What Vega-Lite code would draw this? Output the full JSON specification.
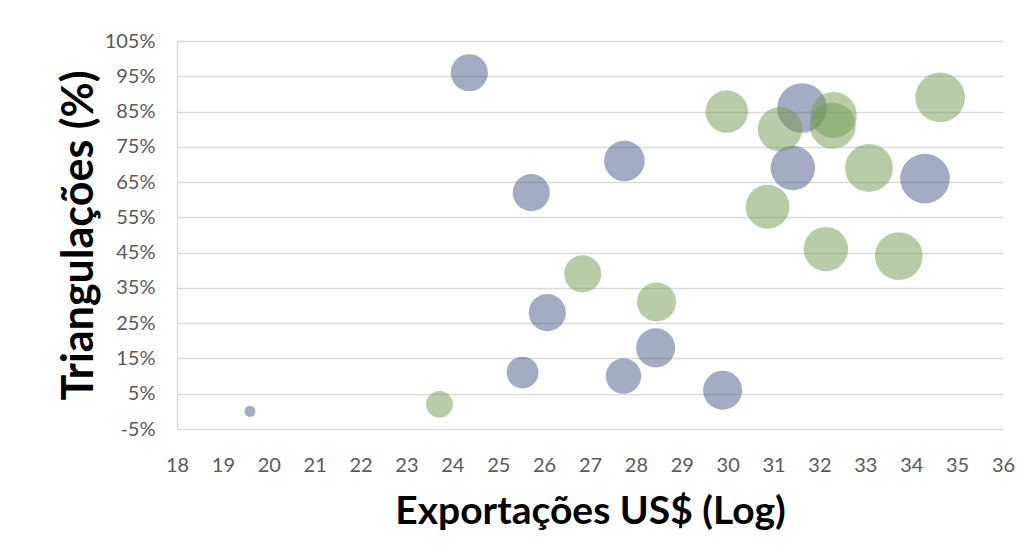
{
  "$schema": "https://vega.github.io/schema/vega-lite/v6.json",
  "width": 826,
  "height": 388,
  "autosize": {"type": "none"},
  "padding": {"left": 177, "top": 41, "right": 25, "bottom": 129},
  "background": "white",
  "config": {"view": {"stroke": null}},
  "data": {
    "values": [
      {"grupo": "Série 1", "exportacoes": 19.59, "triangulacoes": 0, "tamanho": 5},
      {"grupo": "Série 1", "exportacoes": 24.37, "triangulacoes": 96, "tamanho": 56},
      {"grupo": "Série 1", "exportacoes": 25.72, "triangulacoes": 62, "tamanho": 56},
      {"grupo": "Série 1", "exportacoes": 26.07, "triangulacoes": 28, "tamanho": 56},
      {"grupo": "Série 1", "exportacoes": 25.53, "triangulacoes": 11, "tamanho": 41},
      {"grupo": "Série 1", "exportacoes": 27.75, "triangulacoes": 71, "tamanho": 67},
      {"grupo": "Série 1", "exportacoes": 27.73, "triangulacoes": 10, "tamanho": 51},
      {"grupo": "Série 1", "exportacoes": 28.43, "triangulacoes": 18, "tamanho": 62},
      {"grupo": "Série 1", "exportacoes": 29.89, "triangulacoes": 6, "tamanho": 62},
      {"grupo": "Série 1", "exportacoes": 31.62, "triangulacoes": 86, "tamanho": 100},
      {"grupo": "Série 1", "exportacoes": 31.42, "triangulacoes": 69, "tamanho": 80},
      {"grupo": "Série 1", "exportacoes": 34.3, "triangulacoes": 66, "tamanho": 100},
      {"grupo": "Série 2", "exportacoes": 23.72, "triangulacoes": 2, "tamanho": 29},
      {"grupo": "Série 2", "exportacoes": 26.84, "triangulacoes": 39, "tamanho": 56},
      {"grupo": "Série 2", "exportacoes": 28.45, "triangulacoes": 31, "tamanho": 62},
      {"grupo": "Série 2", "exportacoes": 29.98, "triangulacoes": 85, "tamanho": 73},
      {"grupo": "Série 2", "exportacoes": 31.14, "triangulacoes": 80, "tamanho": 80},
      {"grupo": "Série 2", "exportacoes": 30.87, "triangulacoes": 58, "tamanho": 78},
      {"grupo": "Série 2", "exportacoes": 32.31, "triangulacoes": 84, "tamanho": 86},
      {"grupo": "Série 2", "exportacoes": 32.29, "triangulacoes": 81, "tamanho": 86},
      {"grupo": "Série 2", "exportacoes": 33.08, "triangulacoes": 69, "tamanho": 93},
      {"grupo": "Série 2", "exportacoes": 32.14, "triangulacoes": 46, "tamanho": 80},
      {"grupo": "Série 2", "exportacoes": 33.73, "triangulacoes": 44, "tamanho": 93},
      {"grupo": "Série 2", "exportacoes": 34.63, "triangulacoes": 89, "tamanho": 100}
    ]
  },
  "mark": {"type": "circle", "opacity": 0.5, "strokeWidth": 0},
  "encoding": {
    "x": {
      "field": "exportacoes",
      "type": "quantitative",
      "scale": {"domain": [18, 36], "nice": false, "zero": false},
      "axis": {
        "title": "Exportações US$ (Log)",
        "values": [18, 19, 20, 21, 22, 23, 24, 25, 26, 27, 28, 29, 30, 31, 32, 33, 34, 35, 36],
        "grid": false,
        "domain": false,
        "ticks": false,
        "labelFont": "Lato",
        "labelFontSize": 20,
        "labelColor": "#595959",
        "labelPadding": 26,
        "labelFlush": false,
        "titleFont": "Lato",
        "titleFontSize": 39,
        "titleFontWeight": "bold",
        "titleColor": "#000000",
        "titlePadding": 17
      }
    },
    "y": {
      "field": "triangulacoes",
      "type": "quantitative",
      "scale": {"domain": [-5, 105], "nice": false, "zero": false},
      "axis": {
        "title": "Triangulações (%)",
        "values": [-5, 5, 15, 25, 35, 45, 55, 65, 75, 85, 95, 105],
        "labelExpr": "datum.value + '%'",
        "grid": true,
        "gridColor": "#d9d9d9",
        "gridWidth": 1.5,
        "domain": true,
        "domainColor": "#d9d9d9",
        "domainWidth": 1.5,
        "ticks": false,
        "labelFont": "Lato",
        "labelFontSize": 20,
        "labelColor": "#595959",
        "labelPadding": 22,
        "labelFlush": false,
        "titleFont": "Lato",
        "titleFontSize": 43,
        "titleFontWeight": "bold",
        "titleColor": "#000000",
        "titlePadding": 3
      }
    },
    "size": {
      "field": "tamanho",
      "type": "quantitative",
      "scale": {"type": "linear", "domain": [0, 100], "range": [0, 2463]},
      "legend": null
    },
    "color": {
      "field": "grupo",
      "type": "nominal",
      "scale": {"domain": ["Série 1", "Série 2"], "range": ["#475985", "#71994f"]},
      "legend": null
    }
  }
}
